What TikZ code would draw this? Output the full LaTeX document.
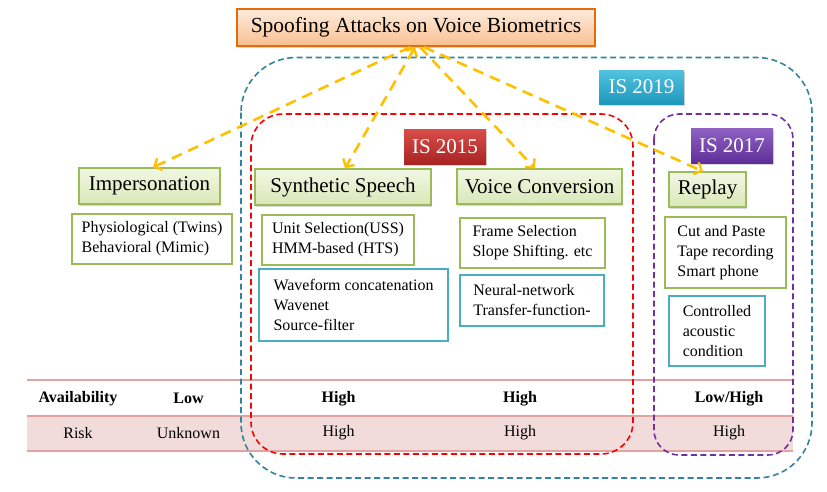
\documentclass[tikz,border=0pt]{standalone}
\usepackage{fontspec}
\setmainfont{Liberation Serif}
\usetikzlibrary{arrows.meta,shadows}
\definecolor{hgreen}{HTML}{9BBB59}
\definecolor{hgtop}{HTML}{F1F7E4}
\definecolor{hgbot}{HTML}{D9E8B8}
\definecolor{bblue}{HTML}{4BACC6}
\definecolor{orborder}{HTML}{E46C0A}
\definecolor{ortop}{HTML}{FDEBDD}
\definecolor{orbot}{HTML}{FAC090}
\definecolor{tealdash}{HTML}{31849B}
\definecolor{purpdash}{HTML}{7030A0}
\definecolor{reddash}{HTML}{FF0000}
\definecolor{arrowc}{HTML}{FFC000}
\definecolor{tline}{HTML}{E0A3A2}
\definecolor{tfill}{HTML}{F2DCDB}
\definecolor{bluetop}{HTML}{52C2E0}
\definecolor{bluebot}{HTML}{1F98BB}
\definecolor{redtop}{HTML}{DA4E4A}
\definecolor{redbot}{HTML}{A82323}
\definecolor{purtop}{HTML}{8F62C4}
\definecolor{purbot}{HTML}{5F2F98}
\begin{document}
\begin{tikzpicture}[x=1pt,y=-1pt,
  softshadow/.style={drop shadow={shadow xshift=1.2pt,shadow yshift=-1.5pt,opacity=0.3}},
  headbox/.style={draw=hgreen,line width=1.3pt,top color=hgtop,bottom color=hgbot,
    font=\fontsize{21}{24}\selectfont,inner sep=0pt,softshadow},
  listbox/.style={draw=hgreen,line width=1.3pt,fill=white,
    font=\fontsize{16}{20}\selectfont,align=left,inner sep=0pt},
  bluebox/.style={listbox,draw=bblue},
  tagbox/.style={text=white,font=\fontsize{21}{24}\selectfont,inner sep=0pt,softshadow},
  linkarrow/.style={draw=arrowc,line width=2.6pt,dash pattern=on 11pt off 7pt,
    -{Straight Barb[length=6pt,width=13pt,line width=2.4pt]}},
  container/.style={line width=1.6pt,dash pattern=on 6pt off 3.5pt},
  tabletext/.style={font=\fontsize{16}{18}\selectfont},
  tablebold/.style={font=\fontsize{16}{18}\selectfont\bfseries}
]
\useasboundingbox (0,0) rectangle (827,491);

% table
\fill[tfill] (27,415.7) rectangle (793,450.7);
\draw[tline,line width=1.6pt] (27,380) -- (793,380);
\draw[tline,line width=1.6pt] (27,415.7) -- (793,415.7);
\draw[tline,line width=1.6pt] (27,450.7) -- (793,450.7);

\node[tablebold] (av) at (78,398.5) {Availability};
\node[tablebold] (av1) at (188.5,398.5) {Low};
\node[tablebold] (av2) at (338.5,398.5) {High};
\node[tablebold] (av3) at (520,398.5) {High};
\node[tablebold] (av4) at (729,398.5) {Low/High};
\node[tabletext] (rk) at (78,433) {Risk};
\node[tabletext] (rk1) at (188.5,433) {Unknown};
\node[tabletext] (rk2) at (338.5,433) {High};
\node[tabletext] (rk3) at (520,433) {High};
\node[tabletext] (rk4) at (729,433) {High};

% dashed containers
\draw[container,tealdash,rounded corners=55pt] (241,57.5) rectangle (812,478);
\draw[container,reddash,rounded corners=32pt] (251,114) rectangle (633,454);
\draw[container,purpdash,rounded corners=25pt] (654,114) rectangle (793,455);

% title
\node[draw=orborder,line width=2.2pt,top color=ortop,bottom color=orbot,
  minimum width=358pt,minimum height=37pt,inner sep=0pt,
  font=\fontsize{21.5}{24}\selectfont,softshadow] (title) at (416,27.5)
  {Spoofing Attacks on Voice Biometrics};

% tags
\node[tagbox,top color=bluetop,bottom color=bluebot,minimum width=85pt,minimum height=34pt] (is19) at (641.5,87) {IS 2019};
\node[tagbox,top color=redtop,bottom color=redbot,minimum width=82pt,minimum height=35pt] (is15) at (445,146.5) {IS 2015};
\node[tagbox,top color=purtop,bottom color=purbot,minimum width=82pt,minimum height=35pt] (is17) at (732,145.5) {IS 2017};

% headings
\node[headbox,minimum width=141pt,minimum height=36pt] (imp) at (149.5,186) {Impersonation};
\node[headbox,minimum width=176pt,minimum height=36pt] (syn) at (343,187) {Synthetic Speech};
\node[headbox,minimum width=165pt,minimum height=35pt] (vc) at (539.5,186.5) {Voice Conversion};
\node[headbox,minimum width=77pt,minimum height=35pt] (rep) at (707.5,189.5) {Replay};

% lists
\node[listbox,minimum width=160pt,minimum height=50pt] (phys) at (152,239)
  {Physiological (Twins)\\Behavioral (Mimic)};
\node[listbox,minimum width=152pt,minimum height=50pt] (uss) at (338,240)
  {Unit Selection(USS)\\HMM-based (HTS)};
\node[bluebox,minimum width=189pt,minimum height=72pt] (wave) at (353.5,305)
  {Waveform concatenation\\Wavenet\\Source-filter};
\node[listbox,minimum width=145pt,minimum height=50pt] (frame) at (532.5,243)
  {Frame Selection\\Slope Shifting. etc};
\node[bluebox,minimum width=144pt,minimum height=51pt] (neural) at (532,300.5)
  {Neural-network\\Transfer-function-};
\node[listbox,minimum width=121pt,minimum height=71pt] (cut) at (725.5,252.5)
  {Cut and Paste\\Tape recording\\Smart phone};
\node[bluebox,minimum width=96pt,minimum height=70pt] (ctrl) at (717,331)
  {Controlled\\acoustic\\condition};

% arrows
\draw[linkarrow] ([xshift=-6pt]title.south) -- ([xshift=3.5pt]imp.north);
\draw[linkarrow,{Straight Barb[length=6pt,width=13pt,line width=2.4pt]}-{Straight Barb[length=6pt,width=13pt,line width=2.4pt]}] ([xshift=-1pt]title.south) -- ([xshift=2pt]syn.north);
\draw[linkarrow] ([xshift=4pt]title.south) -- ([xshift=-4.5pt]vc.north);
\draw[linkarrow] ([xshift=8pt]title.south) -- ([xshift=-4.5pt]rep.north);
\end{tikzpicture}
\end{document}
